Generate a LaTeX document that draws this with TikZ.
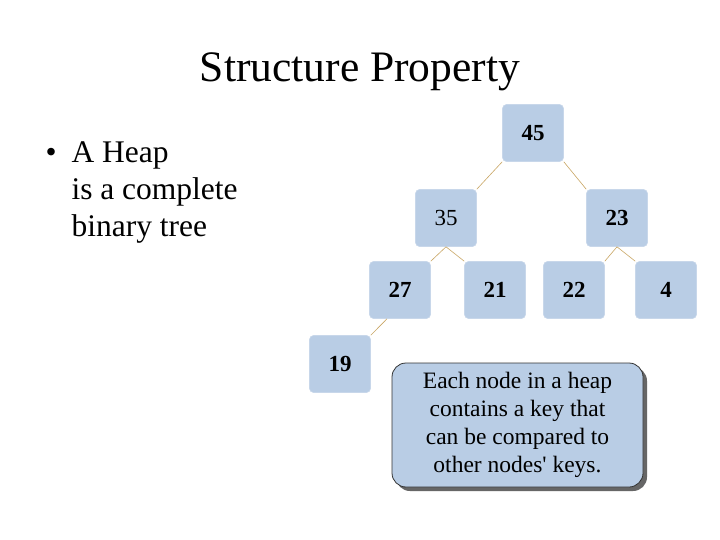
\documentclass[tikz,border=0pt]{standalone}
\usepackage{fontspec}
\setmainfont{Liberation Serif}
\begin{document}
\begin{tikzpicture}[x=1pt,y=-1pt,
  hnode/.style={fill=nodeblue, draw=nodeedge, line width=0.6pt, rounded corners=4pt, minimum width=61pt, minimum height=57pt, inner sep=0pt, font=\fontsize{23}{26}\selectfont},
  edge/.style={draw=edgegold, line width=0.6pt},
  callout/.style={fill=nodeblue, draw=black!80, line width=0.8pt, rounded corners=14pt, minimum width=251pt, minimum height=124pt, align=center, font=\fontsize{23.5}{28}\selectfont},
]
\definecolor{nodeblue}{HTML}{B9CDE5}
\definecolor{nodeedge}{HTML}{C8D7EA}
\definecolor{edgegold}{HTML}{C9A664}
\useasboundingbox (0,0) rectangle (720,540);
\fill[white] (0,0) rectangle (720,540);

\node[font=\fontsize{43.5}{48}\selectfont] (title) at (360,72) {Structure Property};

\node[anchor=north west, align=left, font=\fontsize{31.5}{37}\selectfont] (bul) at (42,138)
  {\makebox[26pt][l]{\textbullet}A Heap\\\hspace*{26pt}is a complete\\\hspace*{26pt}binary tree};

\node[hnode] (n45) at (533,133) {\textbf{45}};
\node[hnode] (n35) at (446,218) {35};
\node[hnode] (n23) at (617,218) {\textbf{23}};
\node[hnode] (n27) at (400,290) {\textbf{27}};
\node[hnode] (n21) at (495,290) {\textbf{21}};
\node[hnode] (n22) at (574,290) {\textbf{22}};
\node[hnode] (n4) at (666,290) {\textbf{4}};
\node[hnode] (n19) at (340,364) {\textbf{19}};

\draw[edge] (n45.south west) -- (n35.north east);
\draw[edge] (n45.south east) -- (n23.north west);
\draw[edge] (n35.south) -- (n27.north east);
\draw[edge] (n35.south) -- (n21.north west);
\draw[edge] (n23.south) -- (n22.north east);
\draw[edge] (n23.south) -- (n4.north west);
\draw[edge] ([xshift=-13pt]n27.south) -- (n19.north east);

\fill[black!60, rounded corners=14pt] (396,367) rectangle (647,491);
\node[callout] (note) at (517.5,425) {Each node in a heap\\contains a key that\\can be compared to\\other nodes\textquotesingle{} keys.};
\end{tikzpicture}
\end{document}
